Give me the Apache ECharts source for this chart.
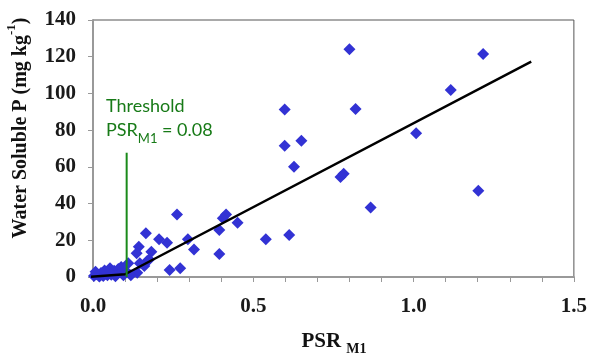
<!DOCTYPE html>
<html><head><meta charset="utf-8">
<script src="https://cdn.jsdelivr.net/npm/echarts@6/dist/echarts.min.js"></script>
<style>html,body{margin:0;padding:0;background:#fff}#c{width:590px;height:356px}</style>
</head><body><div id="c"></div>
<script>
// PSR_M1 values (x) and water soluble P (y)
const psrValues = [0.800,1.217,1.116,0.598,0.819,1.008,0.650,0.598,0.627,0.772,0.782,1.202,0.866,0.612,0.539,0.415,0.405,0.394,0.451,0.394,0.296,0.315,0.262,0.272,0.239,0.231,0.206,0.165,0.182,0.169,0.143,0.136,0.146,0.138,0.110,0.099,0.160,0.175,
  0.003,0.010,0.018,0.025,0.032,0.040,0.047,0.053,0.060,0.066,0.072,0.079,0.085,0.091,0.095,0.020,0.045,0.070,0.008,0.036,0.057,0.088,0.118];
const wspValues  = [124.0,121.5,101.9,91.3,91.5,78.3,74.2,71.5,60.1,54.5,56.2,47.0,37.8,22.9,20.5,34.1,32.0,25.6,29.6,12.5,20.5,15.0,34.1,4.7,3.8,18.7,20.5,23.8,13.8,8.7,16.5,12.9,7.5,2.3,7.5,3.8,6.0,9.5,
  0.5,1.5,0.8,2.2,0.6,1.8,3.0,4.8,2.4,3.4,1.4,4.4,2.6,3.2,1.0,0.3,0.9,0.4,2.8,3.6,1.2,5.5,1.0];
// Segmented regression line vertices
const trendX = [-0.02, 0.10, 1.367];
const trendY = [0.0, 1.5, 117.3];
// Threshold marker line
const thresholdX = [0.105, 0.105];
const thresholdY = [0.0, 67.7];
const xTicks = [0.0, 0.5, 1.0, 1.5];
const yTicks = [0, 20, 40, 60, 80, 100, 120, 140];

const zip = (a, b) => a.map((v, i) => [v, b[i]]);
const serif = '"Liberation Serif","Times New Roman",serif';
const sans = 'Lato,"Open Sans",Arial,sans-serif';
const green = '#177a17';

const chart = echarts.init(document.getElementById('c'), null, {renderer: 'canvas'});
chart.setOption({
  animation: false,
  grid: {left: 93, right: 14, top: 20, bottom: 79, show: true, borderColor: '#555', borderWidth: 1},
  xAxis: {
    type: 'value', min: xTicks[0], max: xTicks[xTicks.length - 1], interval: 0.5,
    axisLine: {show: true, onZero: false, lineStyle: {color: '#999', width: 2}},
    axisTick: {show: true, length: 5, lineStyle: {color: '#999'}},
    minorTick: {show: true, splitNumber: 5, length: 5, lineStyle: {color: '#999'}},
    splitLine: {show: false},
    axisLabel: {margin: 19, formatter: v => v.toFixed(1), fontFamily: serif, fontWeight: 'bold', fontSize: 21, color: '#1a1a1a'}
  },
  yAxis: {
    type: 'value', min: yTicks[0], max: yTicks[yTicks.length - 1], interval: 20,
    axisLine: {show: true, onZero: false, lineStyle: {color: '#999', width: 2}},
    axisTick: {show: true, length: 5, lineStyle: {color: '#999'}},
    splitLine: {show: false},
    axisLabel: {margin: 17, fontFamily: serif, fontWeight: 'bold', fontSize: 21, color: '#1a1a1a'}
  },
  series: [
    {type: 'scatter', data: zip(psrValues, wspValues), symbol: 'diamond', symbolSize: 12,
     itemStyle: {color: '#3232d4', opacity: 1}, z: 3},
    {type: 'line', data: zip(trendX, trendY), symbol: 'none', clip: false,
     lineStyle: {color: '#000', width: 2.5}, z: 4},
    {type: 'line', data: zip(thresholdX, thresholdY), symbol: 'none',
     lineStyle: {color: '#1a8a1a', width: 2}, z: 5}
  ],
  graphic: [
    {type: 'text', left: 106, top: 97, style: {
      text: '{m|Threshold}\n{m|PSR}{s|M1}{m| = 0.08}',
      rich: {
        m: {fontSize: 18, fontFamily: sans, fill: green, lineHeight: 24, verticalAlign: 'top'},
        s: {fontSize: 13, fontFamily: sans, fill: green, lineHeight: 24, verticalAlign: 'bottom'}
      }
    }},
    {type: 'text', x: 334, y: 344, style: {
      text: '{m|PSR }{s|M1}', align: 'center', verticalAlign: 'middle',
      rich: {
        m: {fontSize: 21, fontFamily: serif, fontWeight: 'bold', fill: '#111', lineHeight: 25, verticalAlign: 'top'},
        s: {fontSize: 14, fontFamily: serif, fontWeight: 'bold', fill: '#111', lineHeight: 25, verticalAlign: 'bottom'}
      }
    }},
    {type: 'text', x: 18, y: 128, rotation: Math.PI / 2, style: {
      text: '{m|Water Soluble P (mg kg}{s|-1}{m|)}', align: 'center', verticalAlign: 'middle',
      rich: {
        m: {fontSize: 20, fontFamily: serif, fontWeight: 'bold', fill: '#111', lineHeight: 26, verticalAlign: 'bottom'},
        s: {fontSize: 13, fontFamily: serif, fontWeight: 'bold', fill: '#111', lineHeight: 26, verticalAlign: 'top'}
      }
    }}
  ]
});
</script></body></html>
